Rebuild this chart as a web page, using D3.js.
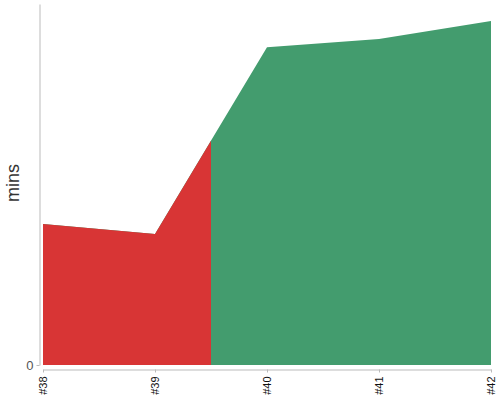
<!DOCTYPE html>
<html><head><meta charset="utf-8">
<script src="https://cdn.jsdelivr.net/npm/d3@7"></script>
<style>body{margin:0;background:#fff;font-family:"Liberation Sans",Arial,sans-serif;}</style>
</head><body><svg id="c" width="500" height="400"></svg>
<script>
const builds = [38, 39, 40, 41, 42];
const tickLabels = ["#38", "#39", "#40", "#41", "#42"];
const durations = [7.81, 7.26, 17.6, 18.06, 19.06];
const failedUntil = 39.5;

const svg = d3.select("#c");
const x = d3.scaleLinear().domain([38, 42]).range([43, 491]);
const y = d3.scaleLinear().domain([0, 20]).range([365, 4]);
const data = builds.map((b, i) => ({b, v: durations[i]}));

const area = d3.area().x(d => x(d.b)).y0(y(0)).y1(d => y(d.v));

svg.append("defs").append("clipPath").attr("id", "redclip")
  .append("rect").attr("x", 0).attr("y", 0).attr("width", x(failedUntil)).attr("height", 400);

svg.append("path").datum(data).attr("d", area).attr("fill", "#439c6e");
svg.append("path").datum(data).attr("d", area).attr("fill", "#d83535").attr("clip-path", "url(#redclip)");

const FF = "Liberation Sans, Arial, sans-serif";
// y axis
const ya = svg.append("g").attr("transform", "translate(39.5,0)")
  .call(d3.axisLeft(y).tickValues([0]).tickSize(3).tickSizeOuter(0));
ya.select(".domain").attr("stroke", "#bbb");
ya.selectAll(".tick line").attr("stroke", "#bbb");
ya.selectAll(".tick text").attr("font-size", 13).attr("fill", "#555").attr("font-family", FF).attr("x", -6);

// x axis
const xa = svg.append("g").attr("transform", "translate(0,369.5)")
  .call(d3.axisBottom(x).tickValues(builds).tickFormat((d, i) => tickLabels[i]).tickSize(3).tickSizeOuter(0));
xa.select(".domain").attr("stroke", "#bbb");
xa.selectAll(".tick line").attr("stroke", "#bbb");
xa.selectAll(".tick text").attr("font-size", 11).attr("fill", "#111").attr("font-family", FF)
  .attr("text-anchor", "end").attr("transform", "rotate(-90)").attr("x", -7).attr("y", 0).attr("dy", "0.35em");

svg.append("text").attr("transform", "translate(19,183) rotate(-90)")
  .attr("text-anchor", "middle").attr("font-size", 18).attr("fill", "#333")
  .attr("font-family", FF).text("mins");
</script></body></html>
